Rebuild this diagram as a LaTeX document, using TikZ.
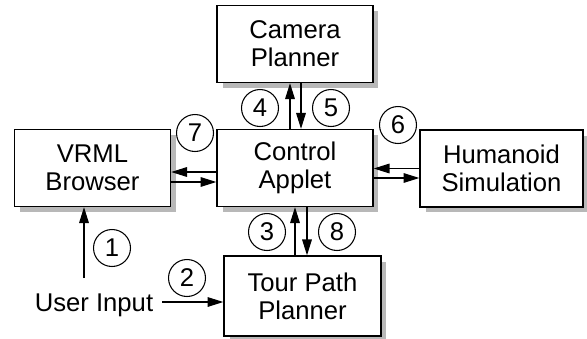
\documentclass[tikz,border=0pt]{standalone}
\usepackage{fontspec}
\setmainfont{Liberation Sans}
\usetikzlibrary{arrows.meta,shadows}
\tikzset{
	box/.style={draw,line width=0.8pt,fill=white,align=center,minimum width=3.12cm,minimum height=1.54cm,
		drop shadow={shadow xshift=0.11cm,shadow yshift=-0.11cm,fill=black!28,opacity=1}},
	num/.style={draw,circle,line width=0.6pt,minimum size=0.74cm,inner sep=0pt},
	arr/.style={line width=0.6pt,-{Triangle[length=9pt,width=5.5pt]}}
}
\begin{document}
\begin{tikzpicture}[x=0.02cm,y=-0.02cm,font=\fontsize{14.6}{16}\selectfont]
	\useasboundingbox (0,0) rectangle (587,338);
	\node[box] (cam) at (295,44) {Camera\\Planner};
	\node[box] (ctrl) at (295,168) {Control\\Applet};
	\node[box] (vrml) at (92.5,168) {VRML\\Browser};
	\node[box,minimum width=3.26cm] (hum) at (501.5,168.5) {Humanoid\\Simulation};
	\node[box,minimum width=3.14cm,minimum height=1.6cm] (tour) at (302.5,296) {Tour Path\\Planner};
	\node (input) at (94,305) {User Input};
	\coordinate (u1) at (84,278);
	\coordinate (u2) at (162,302);
	\draw[arr] ([xshift=-0.1cm]ctrl.north) -- ([xshift=-0.1cm]cam.south);
	\draw[arr] ([xshift=0.12cm]cam.south) -- ([xshift=0.12cm]ctrl.north);
	\draw[arr] ([yshift=-0.08cm]ctrl.west) -- ([yshift=-0.08cm]vrml.east);
	\draw[arr] ([yshift=-0.28cm]vrml.east) -- ([yshift=-0.28cm]ctrl.west);
	\draw[arr] (hum.west) -- (hum.west -| ctrl.east);
	\draw[arr] ([yshift=-0.2cm]ctrl.east) -- ([yshift=-0.2cm]ctrl.east -| hum.west);
	\draw[arr] (tour.north -| ctrl.south) -- (ctrl.south);
	\draw[arr] ([xshift=0.24cm]ctrl.south) -- ([xshift=0.24cm]ctrl.south |- tour.north);
	\draw[arr] (u1) -- (u1 |- vrml.south);
	\draw[arr] (u2) -- (u2 -| tour.west);
	\foreach \n/\x/\y in {1/112/248,2/187/278,3/267/232,4/260/108,5/331/108,6/398/125,7/195/133,8/337/232}
		\node[num] (c\n) at (\x,\y) {\n};
\end{tikzpicture}
\end{document}
